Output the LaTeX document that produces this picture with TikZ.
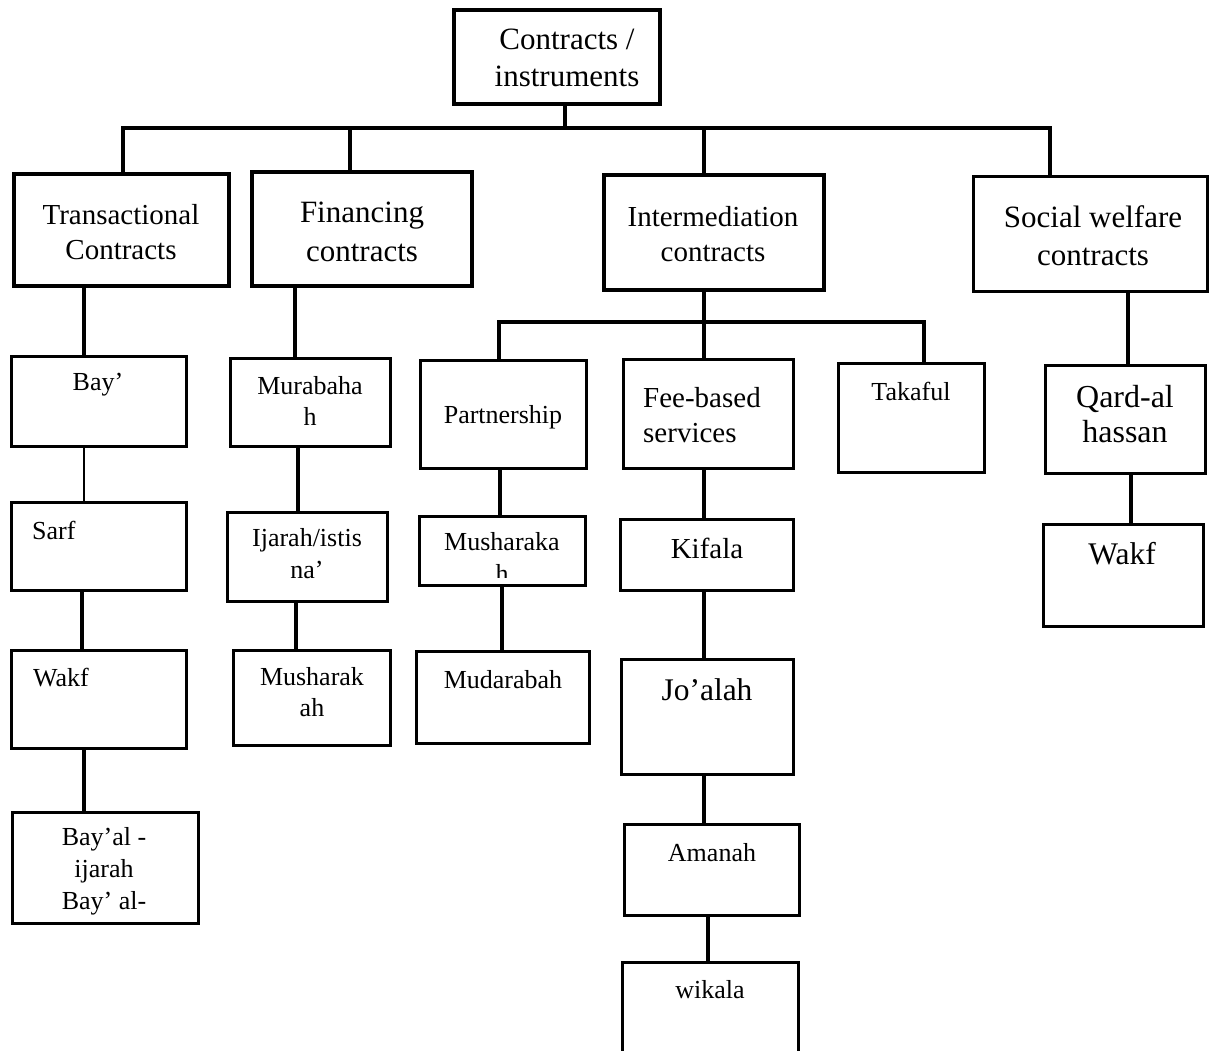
\documentclass[tikz,border=0pt]{standalone}
\usepackage{fontspec}
\setmainfont{Liberation Serif}
\begin{document}
\begin{tikzpicture}[x=1pt,y=-1pt,
  box/.style={draw=black,rectangle,inner sep=0pt,line width=3.2pt},
  topbox/.style={box,line width=4.5pt},
  conn/.style={draw=black,line width=3.5pt},
  thin/.style={draw=black,line width=1.3pt},
  small/.style={font=\fontsize{26}{31}\selectfont,align=center,inner sep=0pt},
  large/.style={font=\fontsize{30}{36}\selectfont,align=center,inner sep=0pt},
  huge/.style={font=\fontsize{31.5}{36}\selectfont,align=center,inner sep=0pt}]
\useasboundingbox (0,0) rectangle (1210,1051);
\clip (0,0) rectangle (1210,1051);

% root and first level
\node[box,line width=3.8pt,minimum width=206pt,minimum height=94pt] (root) at (557,57) {};
\node[box,line width=4.5pt,minimum width=215pt,minimum height=112pt] (trans) at (121.5,230) {};
\node[box,line width=4.5pt,minimum width=220pt,minimum height=114pt] (fin) at (362,229) {};
\node[box,line width=4.5pt,minimum width=220pt,minimum height=115pt] (inter) at (714,232.5) {};
\node[box,line width=3pt,minimum width=234pt,minimum height=114pt] (social) at (1090,234) {};

% transactional column
\node[box,minimum width=175pt,minimum height=90pt] (bay) at (99,401.5) {};
\node[box,minimum width=175pt,minimum height=88pt] (sarf) at (99,546.5) {};
\node[box,minimum width=175pt,minimum height=98pt] (wakfL) at (99,699.5) {};
\node[box,minimum width=186pt,minimum height=111pt] (bayal) at (105.5,868) {};

% financing column
\node[box,minimum width=160pt,minimum height=88pt] (mur) at (310.5,402.5) {};
\node[box,minimum width=160pt,minimum height=89pt] (ijr) at (307.5,557) {};
\node[box,minimum width=157pt,minimum height=95pt] (mushF) at (312,698) {};

% intermediation subtree
\node[box,minimum width=166pt,minimum height=108pt] (part) at (503.5,414.5) {};
\node[box,minimum width=170pt,minimum height=109pt] (fee) at (708.5,414) {};
\node[box,minimum width=146pt,minimum height=109pt] (tak) at (911.5,418) {};
\node[box,minimum width=166pt,minimum height=69pt] (mushI) at (502.5,551) {};
\node[box,minimum width=173pt,minimum height=92pt] (mud) at (503,697.5) {};
\node[box,minimum width=173pt,minimum height=71pt] (kif) at (707,555) {};
\node[box,minimum width=172pt,minimum height=115pt] (joa) at (707.5,717) {};
\node[box,minimum width=175pt,minimum height=91pt] (aman) at (712,870) {};
\node[box,minimum width=176pt,minimum height=116pt] (wik) at (710.5,1020.5) {};

% social welfare column
\node[box,minimum width=160pt,minimum height=108pt] (qard) at (1125.5,419.5) {};
\node[box,minimum width=160pt,minimum height=102pt] (wakfR) at (1123.5,575.5) {};

% labels
\node[large,font=\fontsize{31}{37}\selectfont] (tRoot) at (567,58) {Contracts /\\instruments};
\node[large,font=\fontsize{29}{35}\selectfont] (tTrans) at (121,232) {Transactional\\Contracts};
\node[large,font=\fontsize{31}{39}\selectfont] (tFin) at (362,232) {Financing\\contracts};
\node[large,font=\fontsize{29}{35}\selectfont] (tInter) at (713,234) {Intermediation\\contracts};
\node[large,font=\fontsize{31}{38}\selectfont] (tSocial) at (1093,236) {Social welfare\\contracts};

\node[small] (tBay) at (98,385) {Bay’};
\node[small,anchor=west] (tSarf) at (32,530) {Sarf};
\node[small,anchor=west] (tWakfL) at (33,678) {Wakf};
\node[small,font=\fontsize{26}{32}\selectfont] (tBayal) at (104,871) {Bay’al -\\ijarah\\Bay’ al-};

\node[small] (tMur) at (310,401) {Murabaha\\h};
\node[small,font=\fontsize{26}{32}\selectfont] (tIjr) at (307,554) {Ijarah/istis\\na’};
\node[small] (tMushF) at (312,692) {Musharak\\ah};

\node[small] (tPart) at (503,417) {Partnership};
\node[large,font=\fontsize{29}{35}\selectfont,anchor=west,align=left] (tFee) at (643,415) {Fee-based\\services};
\node[small] (tTak) at (911,391) {Takaful};
\node[small] (tMushI) at (502,542) {Musharaka};
\begin{scope}
  \clip (440,555) rectangle (560,577);
  \node[small] (tMushIh) at (502,573) {h};
\end{scope}
\node[small] (tMud) at (503,680) {Mudarabah};
\node[large,font=\fontsize{29}{35}\selectfont] (tKif) at (707,548) {Kifala};
\node[huge] (tJoa) at (707,690) {Jo’alah};
\node[small] (tAman) at (712,853) {Amanah};
\node[small] (tWik) at (710,990) {wikala};

\node[huge,font=\fontsize{32}{35}\selectfont] (tQard) at (1125,414) {Qard-al\\hassan};
\node[huge] (tWakfR) at (1122,554) {Wakf};

% junction points of the top bus
\coordinate (busRoot) at (565,128);
\coordinate (busT) at (123,128);
\coordinate (busF) at (350,128);
\coordinate (busI) at (704,128);
\coordinate (busS) at (1050,128);

\draw[conn] (root.south -| busRoot) -- (busRoot);
\draw[conn] (trans.north -| busT) -- (busT) -- (busS) -- (social.north -| busS);
\draw[conn] (busF) -- (fin.north -| busF);
\draw[conn] (busI) -- (inter.north -| busI);

% transactional chain
\draw[conn] (trans.south -| 84,0) -- (bay.north -| 84,0);
\draw[thin] (bay.south -| 84,0) -- (sarf.north -| 84,0);
\draw[conn] (sarf.south -| 82,0) -- (wakfL.north -| 82,0);
\draw[conn] (wakfL.south -| 84,0) -- (bayal.north -| 84,0);

% financing chain
\draw[conn] (fin.south -| 295,0) -- (mur.north -| 295,0);
\draw[conn] (mur.south -| 298,0) -- (ijr.north -| 298,0);
\draw[conn] (ijr.south -| 296,0) -- (mushF.north -| 296,0);

% intermediation bus and chains
\coordinate (subI) at (704,322);
\coordinate (subP) at (499,322);
\coordinate (subT) at (924,322);
\draw[conn] (inter.south -| subI) -- (subI);
\draw[conn] (part.north -| subP) -- (subP) -- (subT) -- (tak.north -| subT);
\draw[conn] (subI) -- (fee.north -| subI);
\draw[conn] (part.south -| 500,0) -- (mushI.north -| 500,0);
\draw[conn] (mushI.south -| 502,0) -- (mud.north -| 502,0);
\draw[conn] (fee.south -| 704,0) -- (kif.north -| 704,0);
\draw[conn] (kif.south -| 704,0) -- (joa.north -| 704,0);
\draw[conn] (joa.south -| 704,0) -- (aman.north -| 704,0);
\draw[conn] (aman.south -| 708,0) -- (wik.north -| 708,0);

% social welfare chain
\draw[conn] (social.south -| 1128,0) -- (qard.north -| 1128,0);
\draw[conn] (qard.south -| 1131,0) -- (wakfR.north -| 1131,0);
\end{tikzpicture}
\end{document}
